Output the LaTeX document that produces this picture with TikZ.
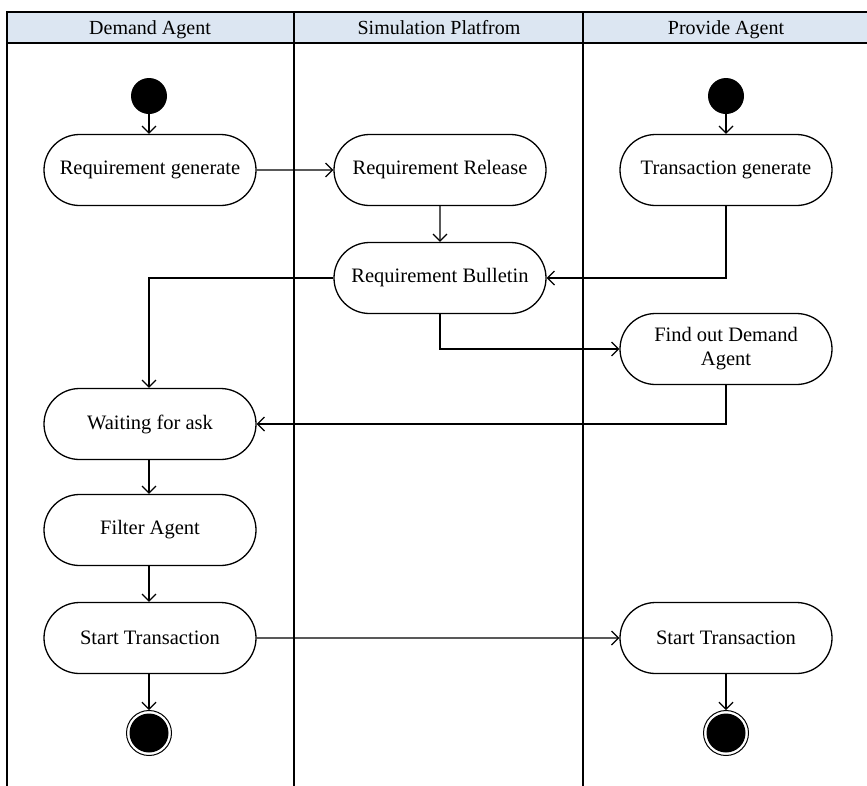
\documentclass[tikz,border=0pt]{standalone}
\usepackage{fontspec}
\setmainfont{Liberation Serif}
\usetikzlibrary{shapes.misc,arrows.meta}
\definecolor{headfill}{HTML}{DCE6F2}
\begin{document}
\begin{tikzpicture}[x=1pt,y=-1pt,
  act/.style={rounded rectangle, draw, line width=1.3pt, minimum width=216pt,
    minimum height=71pt, inner sep=2pt, font=\fontsize{20.5}{24}\selectfont, align=center},
  flow/.style={line width=1.3pt, -{Straight Barb[length=7pt,width=14pt,line width=1.2pt]}},
  lane/.style={line width=2.2pt},
  lanehead/.style={font=\fontsize{20}{22}\selectfont, anchor=base, inner sep=0pt},
  startnode/.style={circle, fill=black, minimum size=36pt, inner sep=0pt},
  endnode/.style={circle, draw, line width=1pt, fill=white, minimum size=45pt, inner sep=0pt,
    path picture={\fill[black] (path picture bounding box.center) circle (19.5pt);}}]
\useasboundingbox (0,0) rectangle (867,785);
\fill[white] (0,0) rectangle (867,785);

% swimlane frame
\draw[lane, fill=headfill] (7,12) rectangle (880,43);
\draw[lane] (7,12) -- (7,790);
\draw[lane] (294,12) -- (294,790);
\draw[lane] (583,12) -- (583,790);
\node[lanehead] (h1) at (150,34) {Demand Agent};
\node[lanehead] (h2) at (439,34) {Simulation Platfrom};
\node[lanehead] (h3) at (726,34) {Provide Agent};

% activities
\node[startnode] (s1) at (149,96) {};
\node[startnode] (s2) at (726,96) {};
\node[act] (rg) at (150,170) {Requirement generate};
\node[act] (rr) at (440,170) {Requirement Release};
\node[act] (tg) at (726,170) {Transaction generate};
\node[act] (rb) at (440,278) {Requirement Bulletin};
\node[act] (fd) at (726,349) {Find out Demand\\Agent};
\node[act] (wa) at (150,424) {Waiting for ask};
\node[act] (fa) at (150,530) {Filter Agent};
\node[act] (st1) at (150,638) {Start Transaction};
\node[act] (st2) at (726,638) {Start Transaction};
\node[endnode] (e1) at (149,733) {};
\node[endnode] (e2) at (726,733) {};

% control flow
\draw[flow] (s1) -- (rg.north -| s1);
\draw[flow] (s2) -- (tg);
\draw[flow] (rg) -- (rr);
\draw[flow] (rr) -- (rb);
\draw[flow] (tg.south) |- (rb.east);
\draw[flow] (rb.west) -| (wa.north -| s1);
\draw[flow] (rb.south) |- (fd.west);
\draw[flow] (fd.south) |- (wa.east);
\draw[flow] (wa.south -| s1) -- (fa.north -| s1);
\draw[flow] (fa.south -| s1) -- (st1.north -| s1);
\draw[flow] (st1) -- (st2);
\draw[flow] (st1.south -| s1) -- (e1);
\draw[flow] (st2) -- (e2);
\end{tikzpicture}
\end{document}
